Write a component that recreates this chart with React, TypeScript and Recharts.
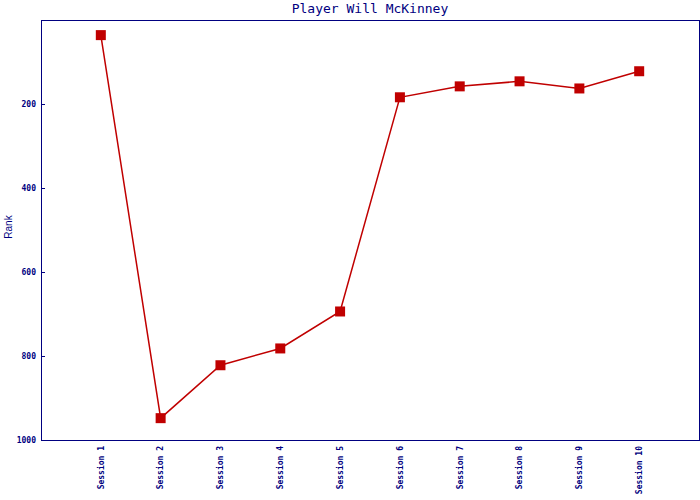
import { LineChart, Line, XAxis, YAxis, ReferenceArea } from 'recharts'

const sessions = ['Session 1', 'Session 2', 'Session 3', 'Session 4', 'Session 5',
  'Session 6', 'Session 7', 'Session 8', 'Session 9', 'Session 10']
const ranks = [36, 948, 822, 782, 694, 184, 158, 146, 163, 122]
const rankTicks = [200, 400, 600, 800, 1000]
const sessionTicks = [1, 2, 3, 4, 5, 6, 7, 8, 9, 10]

const data = sessions.map((s, i) => ({ idx: i + 1, session: s, rank: ranks[i] }))

const NAVY = '#000080'
const RED = '#c00000'
const mono = '"DejaVu Sans Mono", "Liberation Mono", monospace'

function YTick(props: any) {
  const { x, y, payload } = props
  return (
    <g>
      <line x1={x + 5} x2={x + 9} y1={y} y2={y} stroke={NAVY} strokeWidth={1} shapeRendering="crispEdges" />
      <text x={x} y={y} dy="0.35em" textAnchor="end" fill={NAVY}
        fontFamily={mono} fontSize={8} fontWeight="bold">{payload.value}</text>
    </g>
  )
}

function XTick(props: any) {
  const { x, y, payload } = props
  return (
    <g transform={`translate(${x},${y})`}>
      <text transform="rotate(-90)" textAnchor="end" dy="0.35em" fill={NAVY}
        fontFamily={mono} fontSize={8} fontWeight="bold">{sessions[payload.value - 1]}</text>
    </g>
  )
}

function Square(props: any) {
  const { cx, cy, index } = props
  return <rect key={index} x={cx - 5} y={cy - 5} width={10} height={10} fill={RED} />
}

function RankLabel(props: any) {
  const { viewBox } = props
  const x = viewBox.x + 8
  const y = viewBox.y + viewBox.height / 2 - 3
  return (
    <text x={x} y={y} transform={`rotate(-90, ${x}, ${y})`} textAnchor="middle" dy="0.35em"
      fill={NAVY} fontFamily='"Liberation Sans", Arial, sans-serif' fontSize={10}>Rank</text>
  )
}

export default function App() {
  return (
    <div style={{ position: 'absolute', left: 0, top: 0, width: 700, height: 500, background: '#fff' }}>
      <div style={{
        position: 'absolute', left: 41, width: 658, top: 1, textAlign: 'center',
        fontFamily: mono, fontSize: 13, color: NAVY, lineHeight: '16px',
      }}>
        Player Will McKinney
      </div>
      <LineChart width={700} height={500} data={data}
        margin={{ top: 20, right: 1, bottom: 0, left: 0 }}>
        <XAxis dataKey="idx" type="number" domain={[0, 11]} ticks={sessionTicks}
          height={60} tickLine={false} tickSize={0} tickMargin={6}
          axisLine={{ stroke: NAVY, shapeRendering: 'crispEdges' }} tick={<XTick />} interval={0} />
        <YAxis type="number" domain={[0, 1000]} reversed ticks={rankTicks} width={41}
          tickLine={false} tickSize={0} tickMargin={5}
          axisLine={{ stroke: NAVY, shapeRendering: 'crispEdges' }}
          tick={<YTick />} interval={0} label={<RankLabel />} />
        <ReferenceArea x1={0} x2={11} y1={0} y2={1000} stroke={NAVY} strokeWidth={1}
          fill="none" fillOpacity={0} shapeRendering="crispEdges" />
        <Line type="linear" dataKey="rank" stroke={RED} strokeWidth={1.5}
          dot={<Square />} activeDot={false} isAnimationActive={false} />
      </LineChart>
    </div>
  )
}
